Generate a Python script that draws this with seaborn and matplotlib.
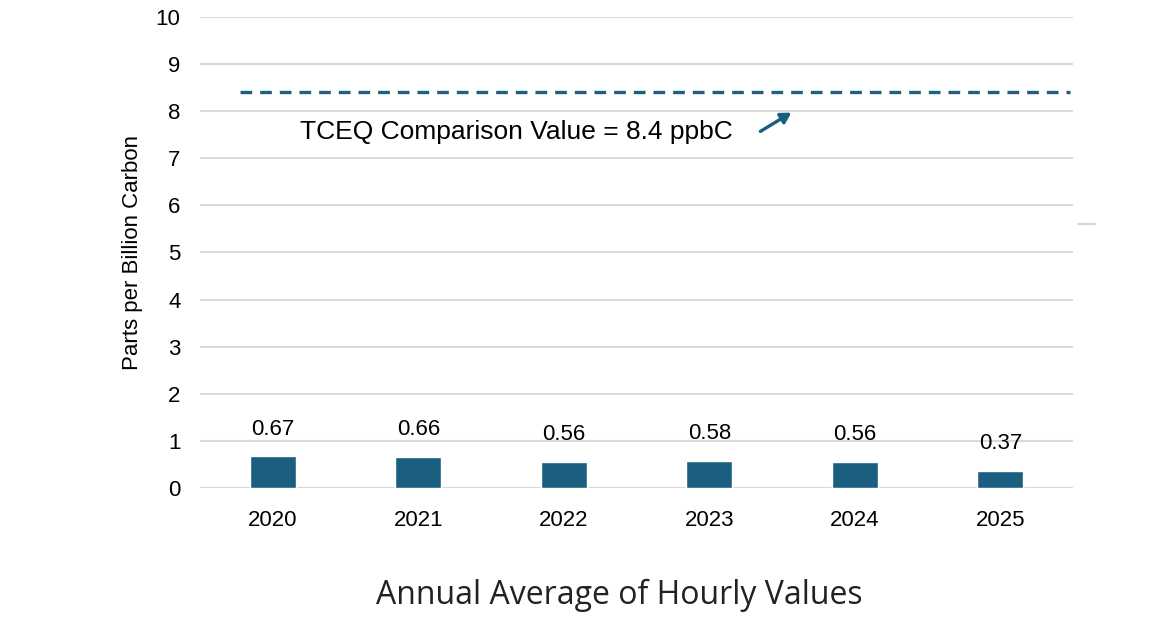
import numpy as np
import pandas as pd
import matplotlib.pyplot as plt
import seaborn as sns
from matplotlib.lines import Line2D

# data
years = ["2020", "2021", "2022", "2023", "2024", "2025"]
values = [0.67, 0.66, 0.56, 0.58, 0.56, 0.37]
comparison_value = 8.4
yticks = list(range(0, 11))

df = pd.DataFrame({"year": years, "ppbC": values})

sns.set_style("white")
plt.rcParams["font.family"] = ["Liberation Sans", "DejaVu Sans"]
plt.rcParams["text.color"] = "black"
plt.rcParams["axes.labelcolor"] = "black"

bar_color = "#1b5f80"

fig = plt.figure(figsize=(11.57, 6.18), dpi=100)
ax = fig.add_axes([0.1729, 0.2104, 0.7545, 0.7621])

sns.barplot(data=df, x="year", y="ppbC", color=bar_color, width=0.316,
            saturation=1, ax=ax, zorder=3)

ax.set_ylim(0, 10)
ax.set_xlim(-0.5, 5.5)
ax.set_yticks(yticks)
ax.yaxis.grid(True, color="#d9d9d9", linewidth=1.5, zorder=0)
ax.set_axisbelow(True)
sns.despine(ax=ax, left=True, bottom=True)
ax.tick_params(axis="both", length=0, labelsize=16, colors="black")
ax.tick_params(axis="y", pad=14)
ax.tick_params(axis="x", pad=16)

# value labels above bars
for i, v in enumerate(values):
    ax.annotate(f"{v:.2f}", (i, v), xytext=(0, 19.5), textcoords="offset points",
                ha="center", va="center", fontsize=16, color="black")

# comparison line
ax.plot([-0.225, 5.48], [comparison_value, comparison_value], color="#1f5f82",
        linestyle=(0, (3.5, 2.4)), linewidth=2.4, zorder=4)
ax.text(0.19, 7.56, f"TCEQ Comparison Value = {comparison_value} ppbC",
        fontsize=19, va="center", ha="left", color="black")
ax.annotate("", xy=(3.58, 8.0), xytext=(3.335, 7.54),
            arrowprops=dict(arrowstyle="-|>,head_length=0.6,head_width=0.35",
                            color="#1b5f80", lw=2.4))

ax.set_ylabel("Parts per Billion Carbon", fontsize=16, labelpad=9)
ax.set_xlabel("")
fig.text(0.535, 0.037, "Annual Average of Hourly Values", ha="center",
         va="center", fontsize=23, family="Open Sans", color="#222222")

# small stray grey mark at the right edge
fig.add_artist(Line2D([0.932, 0.946], [0.637, 0.637], color="#cccccc", lw=1.2))

fig.savefig("out.png", dpi=100)
